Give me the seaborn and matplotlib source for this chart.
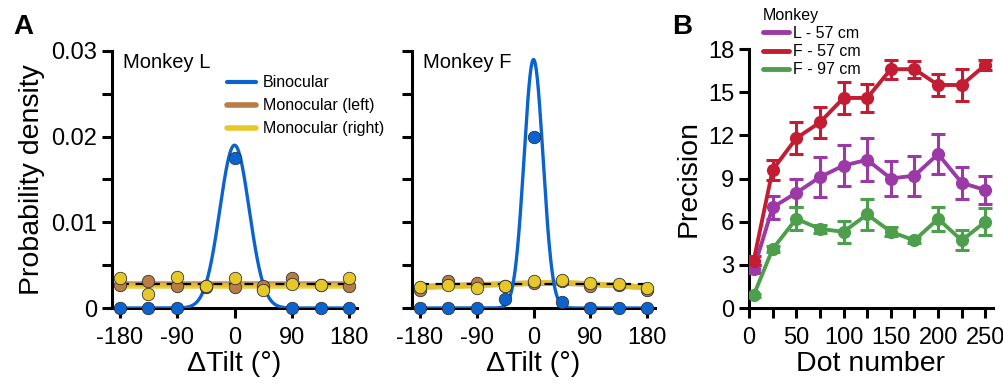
import numpy as np
import pandas as pd
import matplotlib
matplotlib.use("Agg")
import matplotlib.pyplot as plt
import seaborn as sns
from matplotlib.lines import Line2D

# ---- panel A data ----
tilt = [-180, -135, -90, -45, 0, 45, 90, 135, 180]

L_bino = [0, 0, 0, 0.0024, 0.0175, 0.0022, 0, 0, 0]
L_left = [0.0027, 0.0032, 0.0026, 0.0026, 0.0024, 0.0026, 0.0035, 0.0027, 0.0026]
L_right = [0.0035, 0.0016, 0.0036, 0.0026, 0.0035, 0.0021, 0.0028, 0.0027, 0.0035]
L_left_fit = [0.0028, 0.0028, 0.0028, 0.0028, 0.0028, 0.0028, 0.0028, 0.0028, 0.0028]
L_right_fit = [0.0026, 0.0026, 0.0026, 0.0026, 0.0026, 0.0026, 0.0026, 0.0026, 0.0026]

F_bino = [0, 0, 0, 0.0011, 0.0200, 0.0007, 0, 0, 0]
F_left = [0.0021, 0.0031, 0.0029, 0.0026, 0.0029, 0.0031, 0.0026, 0.0027, 0.0021]
F_right = [0.0024, 0.0027, 0.0023, 0.0026, 0.0031, 0.0033, 0.0029, 0.0028, 0.0023]
F_left_fit = [0.0025, 0.0026, 0.0027, 0.0028, 0.0029, 0.0029, 0.0028, 0.0026, 0.0024]
F_right_fit = [0.0024, 0.0025, 0.0026, 0.0028, 0.0029, 0.0030, 0.0028, 0.0026, 0.0024]

# fitted binocular curve (peak height, width in deg)
L_peak, L_sigma = 0.019, 23
F_peak, F_sigma = 0.029, 15
uniform = 1 / 360

# ---- panel B data ----
dots = [5, 25, 50, 75, 100, 125, 150, 175, 200, 225, 250]
prec_L57 = [2.7, 7.0, 8.0, 9.1, 9.9, 10.3, 9.0, 9.2, 10.7, 8.7, 8.2]
err_L57 = [0.3, 0.8, 1.0, 1.4, 1.4, 1.5, 1.2, 1.4, 1.4, 1.1, 1.0]
prec_F57 = [3.3, 9.6, 11.8, 12.9, 14.6, 14.6, 16.6, 16.6, 15.5, 15.5, 16.9]
err_F57 = [0.3, 0.7, 1.1, 1.05, 1.1, 1.0, 0.65, 0.6, 0.75, 1.1, 0.35]
prec_F97 = [0.9, 4.1, 6.2, 5.5, 5.3, 6.5, 5.3, 4.7, 6.2, 4.7, 6.0]
err_F97 = [0.1, 0.2, 0.8, 0.3, 0.75, 1.1, 0.3, 0.2, 0.85, 0.7, 0.95]

BLUE = "#0b63d0"
BROWN = "#b97c45"
YELLOW = "#e6c928"
PURPLE = "#9b3aa6"
RED = "#c21d33"
GREEN = "#4e9f4c"

TICK_FS = 17
LABEL_FS = 20.5

sns.set_style("ticks", {"axes.edgecolor": "black", "text.color": "black",
                        "axes.labelcolor": "black", "xtick.color": "black",
                        "ytick.color": "black"})
plt.rcParams["font.family"] = ["Liberation Sans", "DejaVu Sans"]
plt.rcParams["axes.linewidth"] = 2.2

fig = plt.figure(figsize=(10.04, 3.86), dpi=100)
axL = fig.add_axes([0.1116, 0.202, 0.244, 0.666])
axF = fig.add_axes([0.4104, 0.202, 0.242, 0.666])
axB = fig.add_axes([0.746, 0.202, 0.243, 0.671])


def tilt_panel(ax, bino, left, right, left_fit, right_fit, peak, sigma, name):
    xs = np.linspace(-180, 180, 721)
    curve = peak * np.exp(-xs ** 2 / (2 * sigma ** 2))
    sns.lineplot(x=tilt, y=left_fit, ax=ax, color=BROWN, lw=4, alpha=0.85, zorder=2)
    sns.lineplot(x=tilt, y=right_fit, ax=ax, color=YELLOW, lw=4, alpha=0.85, zorder=2)
    ax.plot([-180, 180], [uniform, uniform], color="black", lw=1.6,
            dashes=(4, 3), zorder=3)
    sns.lineplot(x=xs, y=curve, ax=ax, color=BLUE, lw=2.4, zorder=4)
    # binocular points first so the hidden ±45 ones sit behind the monocular ones
    kw = dict(s=80, edgecolor="#333333", linewidth=0.6, clip_on=False)
    sns.scatterplot(x=tilt, y=bino, ax=ax, color=BLUE, zorder=5, **kw)
    sns.scatterplot(x=tilt, y=left, ax=ax, color=BROWN, zorder=6, **kw)
    sns.scatterplot(x=tilt, y=right, ax=ax, color=YELLOW, zorder=7, **kw)
    ax.set_xlim(-192, 192)
    ax.set_ylim(0, 0.03)
    ax.set_xticks([-180, -90, 0, 90, 180])
    ax.set_xticklabels(["-180", "-90", "0", "90", "180"])
    ax.set_yticks([0, 0.01, 0.02, 0.03])
    ax.set_yticks([0.005, 0.015, 0.025], minor=True)
    ax.tick_params(which="both", width=2.2, length=7, labelsize=TICK_FS)
    ax.tick_params(axis="x", pad=7)
    ax.set_xlabel("ΔTilt (°)", fontsize=LABEL_FS, labelpad=1)
    ax.text(0.045, 0.955, name, transform=ax.transAxes, fontsize=14.5,
            va="center", ha="left")
    sns.despine(ax=ax)


tilt_panel(axL, L_bino, L_left, L_right, L_left_fit, L_right_fit,
           L_peak, L_sigma, "Monkey L")
tilt_panel(axF, F_bino, F_left, F_right, F_left_fit, F_right_fit,
           F_peak, F_sigma, "Monkey F")

axL.set_yticklabels(["0", "0.01", "0.02", "0.03"])
axL.set_ylabel("Probability density", fontsize=LABEL_FS, labelpad=5)
axF.set_yticklabels([])
axF.set_ylabel("")

handles = [Line2D([], [], color=BLUE, lw=3),
           Line2D([], [], color=BROWN, lw=4),
           Line2D([], [], color=YELLOW, lw=4)]
fig.legend(handles, ["Binocular", "Monocular (left)", "Monocular (right)"],
           loc="upper left", bbox_to_anchor=(0.218, 0.826), frameon=False,
           fontsize=11.5, handlelength=1.8, handletextpad=0.45, labelspacing=0.5,
           borderpad=0)

# ---- panel B ----
dfB = pd.DataFrame({
    "dots": dots * 3,
    "precision": prec_L57 + prec_F57 + prec_F97,
    "err": err_L57 + err_F57 + err_F97,
    "Monkey": ["L - 57 cm"] * len(dots) + ["F - 57 cm"] * len(dots)
              + ["F - 97 cm"] * len(dots),
})
palB = {"L - 57 cm": PURPLE, "F - 57 cm": RED, "F - 97 cm": GREEN}
for grp, sub in dfB.groupby("Monkey", sort=False):
    axB.errorbar(sub["dots"], sub["precision"], yerr=sub["err"], fmt="none",
                 ecolor=palB[grp], elinewidth=2.2, capsize=5, capthick=2.2,
                 zorder=3)
sns.lineplot(data=dfB, x="dots", y="precision", hue="Monkey", palette=palB,
             marker="o", markersize=9.5, markeredgewidth=0, lw=2.8, ax=axB,
             zorder=4)
axB.set_xlim(0, 258)
axB.set_ylim(0, 18)
axB.set_xticks([0, 50, 100, 150, 200, 250])
axB.set_xticks([25, 75, 125, 175, 225], minor=True)
axB.set_yticks(np.arange(0, 19, 3))
axB.tick_params(which="both", width=2.2, length=7, labelsize=TICK_FS)
axB.tick_params(axis="x", pad=7)
axB.set_xlabel("Dot number", fontsize=LABEL_FS, labelpad=1)
axB.set_ylabel("Precision", fontsize=LABEL_FS, labelpad=5)
sns.despine(ax=axB)
leg = axB.legend(title="Monkey", loc="upper left", bbox_to_anchor=(0.025, 1.19),
                 frameon=False, fontsize=11.5, title_fontsize=11.5,
                 handlelength=1.6, handletextpad=0.3, labelspacing=0.2,
                 borderpad=0)
leg._legend_box.align = "left"
for h in leg.legend_handles:
    h.set_marker("")
    h.set_linewidth(3.5)

fig.text(0.013, 0.912, "A", fontsize=20, fontweight="bold")
fig.text(0.669, 0.912, "B", fontsize=20, fontweight="bold")

fig.savefig("out.png", dpi=100)
